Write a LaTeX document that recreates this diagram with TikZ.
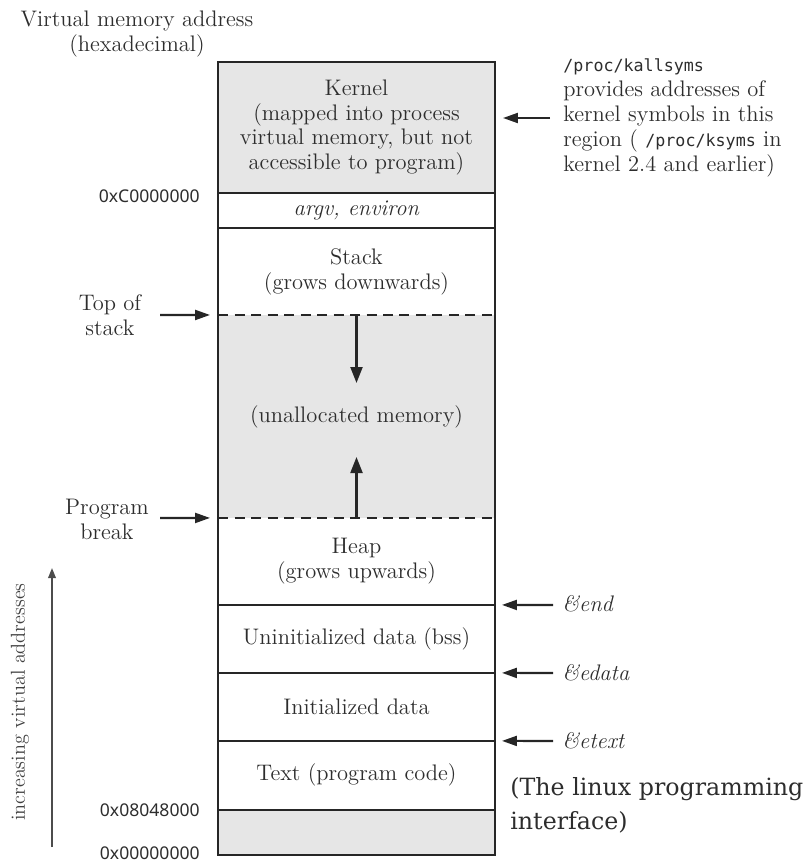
\documentclass[tikz,border=0pt]{standalone}
\usepackage{fontspec}
\usetikzlibrary{arrows.meta, positioning}
\newfontfamily\addrfont{Noto Sans}
\newfontfamily\procfont{DejaVu Sans Mono}
\newfontfamily\citefont{DejaVu Serif}
\definecolor{memgray}{RGB}{230,230,230}
\definecolor{inkgray}{RGB}{45,45,45}
\newcommand{\mainsize}{\fontsize{12.8pt}{14.2pt}\selectfont}
\newcommand{\procsize}{\procfont\fontsize{9.5pt}{14.2pt}\selectfont}

\begin{document}
\begin{tikzpicture}[x=0.02cm, y=-0.02cm, font=\mainsize, text=inkgray,
  region/.style={inner sep=0pt, outer sep=0pt, minimum width=5.54cm, align=center},
  frameline/.style={line width=1.5pt, draw=black!85},
  boundary/.style={line width=1.2pt, draw=black!85, dash pattern=on 0.2cm off 0.13cm},
  pointer/.style={-{Triangle[length=0.3cm,width=0.2cm]}, line width=1.2pt, draw=black!85},
  growarrow/.style={-{Triangle[length=0.32cm,width=0.24cm]}, line width=1.2pt, draw=black!85},
  addr/.style={anchor=east, inner sep=0pt, font=\addrfont\fontsize{10pt}{12pt}\selectfont},
  sidenote/.style={anchor=west, inner sep=0pt, align=left}]
\useasboundingbox (0,0) rectangle (811,862);
% Header
\node[align=center, inner sep=0pt] (vmaHead) at (137,34)
  {Virtual memory address\\(hexadecimal)};
% Segments, top to bottom
\node[region, fill=memgray, minimum height=2.62cm] (kernel) at (356.5,127.5)
  {Kernel\\(mapped into process\\virtual memory, but not\\accessible to program)};
\node[region, minimum height=0.70cm, below=0pt of kernel] (argv)
  {\textit{argv, environ}};
\node[region, minimum height=1.74cm, below=0pt of argv] (stack)
  {Stack\\(grows downwards)};
\node[region, fill=memgray, minimum height=4.06cm, below=0pt of stack] (unalloc)
  {(unallocated memory)};
\node[region, minimum height=1.74cm, below=0pt of unalloc] (heap)
  {Heap\\(grows upwards)};
\node[region, minimum height=1.36cm, below=0pt of heap] (bss)
  {Uninitialized data (bss)};
\node[region, minimum height=1.36cm, below=0pt of bss] (idata)
  {Initialized data};
\node[region, minimum height=1.38cm, below=0pt of idata] (ptext)
  {Text (program code)};
\node[region, fill=memgray, minimum height=0.90cm, below=0pt of ptext] (lowgap) {};
% Borders
\draw[frameline] (kernel.north west) rectangle (lowgap.south east);
\draw[frameline] (kernel.south west) -- (kernel.south east);
\draw[frameline] (argv.south west) -- (argv.south east);
\draw[boundary] (stack.south west) -- (stack.south east);
\draw[boundary] (unalloc.south west) -- (unalloc.south east);
\draw[frameline] (heap.south west) -- (heap.south east);
\draw[frameline] (bss.south west) -- (bss.south east);
\draw[frameline] (idata.south west) -- (idata.south east);
\draw[frameline] (ptext.south west) -- (ptext.south east);
% Growth arrows
\coordinate (stackTip) at (356.5,383);
\coordinate (heapTip) at (356.5,457);
\draw[growarrow] (unalloc.north) -- (stackTip);
\draw[growarrow] (unalloc.south) -- (heapTip);
% Left pointers
\node[align=center, inner sep=0pt] (tos) at (110,315) {Top of\\stack};
\node[align=center, inner sep=0pt] (pbrk) at (107,519) {Program\\break};
\coordinate (tosTail) at (160,315);
\coordinate (pbrkTail) at (160,518);
\draw[pointer, shorten >=0.16cm] (tosTail) -- (unalloc.north west);
\draw[pointer, shorten >=0.16cm] (pbrkTail) -- (unalloc.south west);
% Right pointers
\node[sidenote] (ksyms) at (563,118)
  {{\procsize /proc/kallsyms}\\provides addresses of\\kernel symbols in this\\region ( {\procsize /proc/ksyms} in\\kernel 2.4 and earlier)};
\coordinate (ksymTail) at (550,118);
\draw[pointer, shorten >=0.16cm] (ksymTail) -- (kernel.east |- ksymTail);
\node[sidenote] (endSym) at (562,604) {\textit{\&end}};
\node[sidenote] (edataSym) at (562,673) {\textit{\&edata}};
\node[sidenote] (etextSym) at (562,741) {\textit{\&etext}};
\coordinate (endTail) at (553,605);
\coordinate (edataTail) at (553,673);
\coordinate (etextTail) at (553,741);
\draw[pointer, shorten >=0.14cm] (endTail) -- (bss.north east);
\draw[pointer, shorten >=0.14cm] (edataTail) -- (idata.north east);
\draw[pointer, shorten >=0.14cm] (etextTail) -- (ptext.north east);
% Addresses
\node[addr] (addrKernel) at (200,196) {0xC0000000};
\node[addr] (addrText) at (200,810) {0x08048000};
\node[addr] (addrZero) at (200,853) {0x00000000};
% Direction of addresses
\coordinate (axisLow) at (52,847);
\coordinate (axisHigh) at (52,568);
\draw[-{Triangle[length=0.2cm,width=0.15cm]}, line width=1pt, draw=black!70]
  (axisLow) -- (axisHigh);
\node[rotate=90, font=\fontsize{11.5pt}{13pt}\selectfont, text=black!75] (axisLbl)
  at (20,702) {increasing virtual addresses};
% Source
\node[anchor=west, align=left, inner sep=0pt,
  font=\citefont\fontsize{13.5pt}{19.3pt}\selectfont] (cite) at (510,805)
  {(The linux programming\\interface)};
\end{tikzpicture}
\end{document}
